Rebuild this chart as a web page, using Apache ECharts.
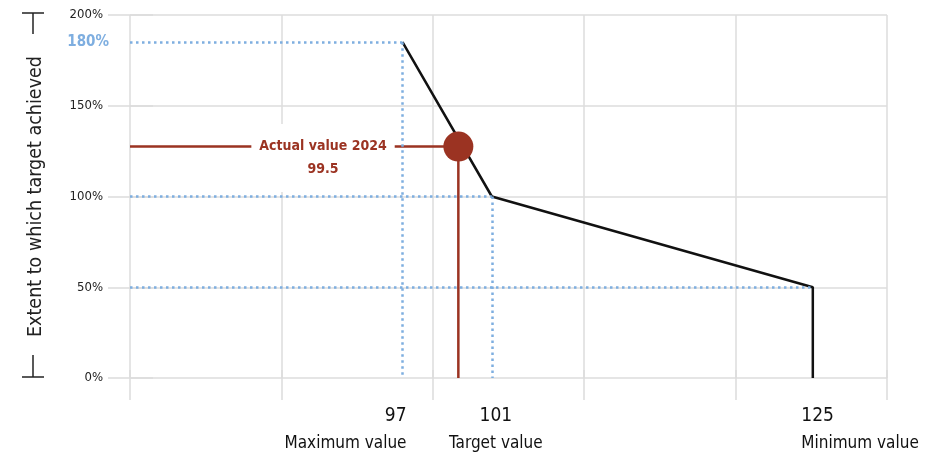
<!DOCTYPE html>
<html>
<head>
<meta charset="utf-8">
<script src="https://cdn.jsdelivr.net/npm/echarts@6/dist/echarts.min.js"></script>
<style>html,body{margin:0;padding:0;background:#fff}#c{width:937px;height:455px}</style>
</head>
<body>
<div id="c"></div>
<script>
// ---- data ----
const thresholdValues = [97, 101, 125];
const thresholdNames = ['Maximum value', 'Target value', 'Minimum value'];
const thresholdPos = [18, 23.9, 45.1];          // position of each value on the (non-linear) horizontal axis
const achievementPlot = [185, 100, 50];         // plotted height of each threshold (%)
const achievementLabels = ['180%', '100%', '50%'];
const yTicks = [0, 50, 100, 150, 200];
const actualValue = 99.5;
const actualYear = 2024;
const actualAchievement = 127.5;

const FONT = '"DejaVu Sans Condensed", "DejaVu Sans", sans-serif';
const RED = '#9b3322';
const BLUE = '#7eaee0';
const GRID = '#dcdcdc';

function posOf(v) {
  for (let i = 0; i < thresholdValues.length - 1; i++) {
    const a = thresholdValues[i], b = thresholdValues[i + 1];
    if (v >= a && v <= b) return thresholdPos[i] + (v - a) / (b - a) * (thresholdPos[i + 1] - thresholdPos[i]);
  }
  return thresholdPos[0];
}
const actualPos = posOf(actualValue);

const curve = thresholdPos.map((p, i) => [p, achievementPlot[i]]);
curve.push([thresholdPos[thresholdPos.length - 1], 0]);

const guideLines = [];
thresholdPos.forEach((p, i) => {
  guideLines.push([
    { coord: [0, achievementPlot[i]],
      label: i === 0 ? { show: true, position: 'start', distance: 21, formatter: achievementLabels[i],
        color: BLUE, fontWeight: 'bold', fontSize: 15, fontFamily: FONT } : { show: false } },
    { coord: [p, achievementPlot[i]] }
  ]);
  if (i < 2) {
    guideLines.push([
      { coord: [p, achievementPlot[i]], label: { show: false } },
      { coord: [p, 0] }
    ]);
  }
});

const bottomAlign = ['right', 'center', 'left'];
const bottomOffset = [4, 4, -11.5];
const bottomLabels = thresholdPos.map((p, i) => ({
  coord: [p, 0],
  symbolSize: 0,
  label: {
    show: true, position: 'bottom', distance: 0, align: bottomAlign[i],
    offset: [bottomOffset[i], 25],
    formatter: '{n|' + thresholdValues[i] + '}\n{d|' + thresholdNames[i] + '}',
    rich: {
      n: { fontSize: 19, lineHeight: 27, color: '#111', fontFamily: FONT, align: bottomAlign[i] },
      d: { fontSize: 17, lineHeight: 27, color: '#111', fontFamily: FONT, align: bottomAlign[i] }
    }
  }
}));

const chart = echarts.init(document.getElementById('c'), null, { renderer: 'canvas' });
chart.setOption({
  animation: false,
  backgroundColor: '#fff',
  textStyle: { fontFamily: FONT },
  grid: { left: 130, right: 50, top: 15, bottom: 77 },
  xAxis: [
    { type: 'value', min: 0, max: 50, interval: 10, position: 'bottom',
      axisLine: { show: false }, axisLabel: { show: false },
      axisTick: { show: true, length: 22, lineStyle: { color: GRID, width: 1.5 } },
      splitLine: { show: true, lineStyle: { color: GRID, width: 1.5 } } },
    { type: 'value', min: 0, max: 50, interval: 10, position: 'top',
      axisLine: { show: false }, axisLabel: { show: false },
      axisTick: { show: true, length: 8, lineStyle: { color: GRID, width: 1.5 } },
      splitLine: { show: false } }
  ],
  yAxis: [
    { type: 'value', min: yTicks[0], max: yTicks[yTicks.length - 1], interval: 50,
      name: 'Extent to which target achieved', nameLocation: 'middle', nameGap: 84,
      nameTextStyle: { fontSize: 19.5, color: '#222', fontFamily: FONT },
      axisLine: { show: false },
      axisTick: { show: true, length: 22, lineStyle: { color: GRID, width: 1.5 } },
      axisLabel: { margin: 27, fontSize: 13, color: '#222', formatter: '{value}%', fontFamily: FONT },
      splitLine: { show: true, lineStyle: { color: GRID, width: 1.5 } } },
    { type: 'value', min: yTicks[0], max: yTicks[yTicks.length - 1], interval: 50, position: 'right',
      axisLine: { show: false }, axisLabel: { show: false }, splitLine: { show: false },
      axisTick: { show: true, length: 23, lineStyle: { color: GRID, width: 1.5 } } }
  ],
  graphic: [
    { type: 'line', shape: { x1: 22, y1: 13, x2: 44, y2: 13 }, style: { stroke: '#222', lineWidth: 1.5 } },
    { type: 'line', shape: { x1: 33, y1: 13, x2: 33, y2: 34 }, style: { stroke: '#222', lineWidth: 1.5 } },
    { type: 'line', shape: { x1: 33, y1: 355, x2: 33, y2: 377 }, style: { stroke: '#222', lineWidth: 1.5 } },
    { type: 'line', shape: { x1: 22, y1: 377, x2: 44, y2: 377 }, style: { stroke: '#222', lineWidth: 1.5 } }
  ],
  series: [
    { type: 'line', name: 'guides', data: [], z: 2,
      markLine: { silent: true, symbol: 'none',
        lineStyle: { color: BLUE, width: 2.5, type: [2.5, 3.5], cap: 'butt' },
        data: guideLines } },
    { type: 'line', name: 'curve', data: curve, z: 3, symbol: 'none',
      lineStyle: { color: '#111', width: 2.5 }, clip: false,
      markPoint: { silent: true, symbol: 'circle', data: bottomLabels } },
    { type: 'line', name: 'actual', z: 4, symbol: 'none', clip: false,
      data: [[0, actualAchievement], [actualPos, actualAchievement], [actualPos, 0]],
      lineStyle: { color: RED, width: 2.5 },
      markPoint: { silent: true, data: [
        { coord: [actualPos, actualAchievement], symbol: 'circle', symbolSize: 30,
          itemStyle: { color: RED }, label: { show: false } },
        { coord: [12.75, actualAchievement], symbolSize: 0,
          label: { show: true, position: 'inside', offset: [0, 11.5],
            formatter: 'Actual value ' + actualYear + '\n' + actualValue,
            backgroundColor: '#fff', padding: [11, 8],
            color: RED, fontWeight: 'bold', fontSize: 14, lineHeight: 23, fontFamily: FONT, align: 'center' } }
      ] } }
  ]
});
</script>
</body>
</html>
